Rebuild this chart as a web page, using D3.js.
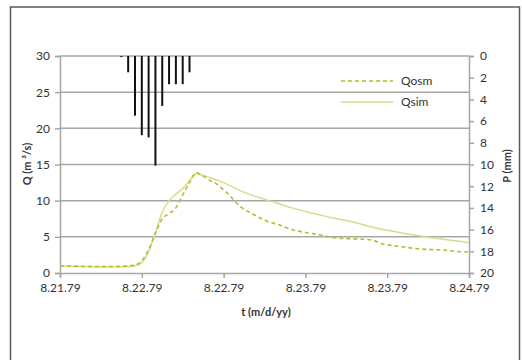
<!DOCTYPE html>
<html>
<head>
<meta charset="utf-8">
<script src="https://cdn.jsdelivr.net/npm/d3@7"></script>
<style>
  body { margin: 0; background: #fff; }
  svg { display: block; font-family: Lato, "Open Sans", sans-serif; }
</style>
</head>
<body>
<svg id="plot" width="522" height="360"></svg>
<script>
const width = 522, height = 360;
const margin = {top: 56, right: 53, bottom: 87, left: 60};

// x in hours from 8.21.79 00:00
const xTickHours = [0, 12, 24, 36, 48, 60];
const xTickLabels = ["8.21.79", "8.22.79", "8.22.79", "8.23.79", "8.23.79", "8.24.79"];
const qTicks = [0, 5, 10, 15, 20, 25, 30];
const pTicks = [0, 2, 4, 6, 8, 10, 12, 14, 16, 18, 20];

const rainHours = [9, 10, 11, 12, 13, 14, 15, 16, 17, 18, 19];
const rainMm = [0.1, 1.5, 5.5, 7.3, 7.5, 10.1, 4.6, 2.6, 2.6, 2.6, 1.5];

const qosmHours = [0, 4, 8, 10, 11, 12, 13, 14, 15, 16, 17, 18, 19, 20, 21, 22, 23, 24, 25, 26, 27, 28,
                   30, 32, 34, 36, 38, 40, 42, 44, 46, 47, 48, 50, 52, 54, 56, 58, 60];
const qosmValues = [1.0, 0.9, 0.9, 1.0, 1.1, 1.7, 3.2, 5.5, 7.5, 8.2, 9.0, 10.8, 12.5, 13.9, 13.4, 12.8, 12.3, 11.5, 10.6, 9.6, 8.8, 8.3,
                    7.3, 6.7, 6.0, 5.6, 5.3, 4.9, 4.75, 4.7, 4.5, 4.1, 3.9, 3.65, 3.4, 3.25, 3.2, 3.0, 2.9];

const qsimHours = [0, 4, 8, 10, 11, 12, 13, 14, 15, 16, 17, 18, 19, 20, 21, 22, 24, 26, 28, 30, 32, 34,
                   36, 38, 40, 42, 44, 46, 48, 50, 52, 54, 56, 58, 60];
const qsimValues = [1.0, 0.9, 0.85, 0.9, 1.0, 1.4, 3.0, 5.6, 8.4, 10.0, 10.9, 11.7, 12.8, 13.7, 13.5, 13.2, 12.5, 11.6, 10.8, 10.2, 9.6, 9.0,
                    8.5, 8.05, 7.6, 7.25, 6.8, 6.3, 5.9, 5.55, 5.25, 4.95, 4.7, 4.45, 4.2];

const grey = "#a6a6a6";
const osmColour = "#b8bc2c";
const simColour = "#d8db8e";
const textColour = "#333";

let svg = d3.select("#plot");

// outer frame
svg.append("rect")
    .attr("x", 10.5).attr("y", 7)
    .attr("width", 509).attr("height", 370)
    .attr("fill", "none")
    .attr("stroke", "#595959")
    .attr("stroke-width", 1.5);

let x = d3.scaleLinear()
    .domain([0, 60])
    .range([margin.left, width - margin.right]);

let yQ = d3.scaleLinear()
    .domain([0, 30])
    .range([height - margin.bottom, margin.top]);

let yP = d3.scaleLinear()
    .domain([0, 20])
    .range([margin.top, height - margin.bottom]);

let styleAxis = g => g
    .call(g => g.select(".domain").attr("stroke", grey).attr("stroke-width", 1.5))
    .call(g => g.selectAll(".tick line").attr("stroke", grey).attr("stroke-width", 1.5))
    .call(g => g.selectAll(".tick text")
              .attr("font-size", 12)
              .attr("font-family", "Lato, sans-serif")
              .attr("fill", textColour));

let yAxis = g => g
    .attr("transform", `translate(${margin.left}, 0)`)
    .call(d3.axisLeft(yQ)
            .tickValues(qTicks)
            .tickSize(5)
            .tickPadding(5))
    .call(styleAxis);

let pAxis = g => g
    .attr("transform", `translate(${width - margin.right}, 0)`)
    .call(d3.axisRight(yP)
            .tickValues(pTicks)
            .tickSize(5)
            .tickPadding(6))
    .call(styleAxis);

let xAxis = g => g
    .attr("transform", `translate(0, ${height - margin.bottom})`)
    .call(d3.axisBottom(x)
            .tickValues(xTickHours)
            .tickFormat((d, i) => xTickLabels[i])
            .tickSize(5)
            .tickPadding(5))
    .call(styleAxis);

// horizontal gridlines
svg.append("g")
    .selectAll("line")
    .data(qTicks.filter(d => d > 0))
    .join("line")
      .attr("x1", margin.left)
      .attr("x2", width - margin.right)
      .attr("y1", d => yQ(d))
      .attr("y2", d => yQ(d))
      .attr("stroke", grey)
      .attr("stroke-width", 1.5);

svg.append("g").call(yAxis);
svg.append("g").call(pAxis);
svg.append("g").call(xAxis);

// precipitation bars hanging from the top
svg.append("g")
    .selectAll("line")
    .data(rainHours.map((h, i) => ({h, p: rainMm[i]})))
    .join("line")
      .attr("x1", d => x(d.h))
      .attr("x2", d => x(d.h))
      .attr("y1", yP(0))
      .attr("y2", d => yP(d.p))
      .attr("stroke", "#111")
      .attr("stroke-width", 2);

// discharge lines
let line = d3.line()
    .x(d => x(d[0]))
    .y(d => yQ(d[1]))
    .curve(d3.curveMonotoneX);

svg.append("path")
    .datum(qsimHours.map((h, i) => [h, qsimValues[i]]))
    .attr("d", line)
    .attr("fill", "none")
    .attr("stroke", simColour)
    .attr("stroke-width", 1.5);

svg.append("path")
    .datum(qosmHours.map((h, i) => [h, qosmValues[i]]))
    .attr("d", line)
    .attr("fill", "none")
    .attr("stroke", osmColour)
    .attr("stroke-width", 1.6)
    .attr("stroke-dasharray", "4,3");

// legend
let legend = svg.append("g")
    .attr("font-size", 12)
    .attr("fill", textColour);

let legendItems = [
  {name: "Qosm", colour: osmColour, dash: "4,3", y: 81},
  {name: "Qsim", colour: simColour, dash: null, y: 102}
];

legendItems.forEach(d => {
  legend.append("line")
      .attr("x1", 341).attr("x2", 393)
      .attr("y1", d.y).attr("y2", d.y)
      .attr("stroke", d.colour)
      .attr("stroke-width", 1.5)
      .attr("stroke-dasharray", d.dash);
  legend.append("text")
      .attr("x", 401)
      .attr("y", d.y + 4)
      .text(d.name);
});

// axis titles
let title = (tx, ty, rot, txt) => svg.append("text")
    .attr("transform", `translate(${tx}, ${ty}) rotate(${rot})`)
    .attr("text-anchor", "middle")
    .attr("font-size", 11)
    .attr("font-weight", "bold")
    .attr("fill", textColour)
    .text(txt);

title(31, 164, -90, "Q (m ³/s)");
title(511, 166, -90, "P (mm)");
title(266, 316, 0, "t (m/d/yy)");
</script>
</body>
</html>
